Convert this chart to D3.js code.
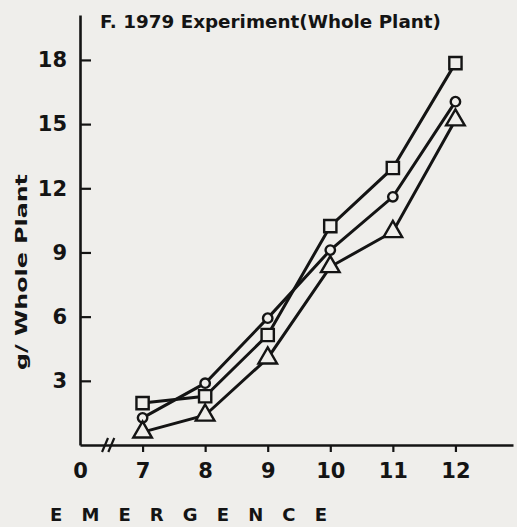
<!DOCTYPE html>
<html>
<head>
<meta charset="utf-8">
<script src="https://cdn.jsdelivr.net/npm/d3@7"></script>
<style>
  html, body { margin: 0; padding: 0; background: #efeeeb; }
  svg { display: block; }
  text { font-family: 'DejaVu Sans', sans-serif; fill: #141414; }
</style>
</head>
<body>
<svg id="chart" width="517" height="527"></svg>
<script>
// emergence (x) and grams per whole plant for the three series
const categories = [7, 8, 9, 10, 11, 12];
const squareSeries = [1.96, 2.28, 5.14, 10.23, 12.95, 17.85];
const circleSeries = [1.27, 2.89, 5.93, 9.11, 11.6, 16.05];
const triangleSeries = [0.6, 1.39, 4.06, 8.33, 9.97, 15.19];
const yTicks = [3, 6, 9, 12, 15, 18];
const xTickLabels = ['0', '7', '8', '9', '10', '11', '12'];

const ink = '#141414';
const bg = '#efeeeb';

let svg = d3.select('#chart');

const x = d3.scaleLinear().domain([6, 12.92]).range([80, 513]);
const y = d3.scaleLinear().domain([0, 20.1]).range([445, 15]);

// y axis, ticks pointing inward
const yAxis = svg.append('g')
    .attr('transform', `translate(${x(6)},0)`)
    .call(d3.axisLeft(y).tickValues(yTicks).tickSizeInner(-11).tickSizeOuter(0).tickPadding(13));
yAxis.select('.domain').attr('stroke', ink).attr('stroke-width', 2.6);
yAxis.selectAll('.tick line').attr('stroke', ink).attr('stroke-width', 2.2);
yAxis.selectAll('.tick text')
    .style('font-size', '21px').style('font-weight', 'bold').attr('fill', ink);

// x axis, first tick is the broken-axis origin labelled 0
const xAxis = svg.append('g')
    .attr('transform', `translate(0,${y(0)})`)
    .call(d3.axisBottom(x).tickValues([6].concat(categories))
        .tickFormat((d, i) => xTickLabels[i])
        .tickSizeInner(7).tickSizeOuter(0).tickPadding(11));
xAxis.select('.domain').attr('stroke', ink).attr('stroke-width', 2.6);
xAxis.selectAll('.tick line').attr('stroke', ink).attr('stroke-width', 2.2)
    .filter(d => d === 6).remove();
xAxis.selectAll('.tick text')
    .style('font-size', '21px').style('font-weight', 'bold').attr('fill', ink);

// axis break marks
[6.4, 6.5].forEach(v => {
    svg.append('line')
        .attr('x1', x(v) - 3).attr('y1', y(0) + 7)
        .attr('x2', x(v) + 3).attr('y2', y(0) - 7)
        .attr('stroke', ink).attr('stroke-width', 2.2);
});

const line = d3.line()
    .x((d, i) => x(categories[i]))
    .y(d => y(d));

const seriesList = [
    {name: 'square', values: squareSeries},
    {name: 'circle', values: circleSeries},
    {name: 'triangle', values: triangleSeries}
];

svg.selectAll('path.series')
    .data(seriesList)
    .join('path')
    .attr('class', 'series')
    .attr('d', d => line(d.values))
    .attr('fill', 'none')
    .attr('stroke', ink)
    .attr('stroke-width', 3);

const symbolOf = {
    square: d3.symbol().type(d3.symbolSquare).size(150),
    circle: d3.symbol().type(d3.symbolCircle).size(70),
    triangle: d3.symbol().type(d3.symbolTriangle).size(150)
};

seriesList.forEach(s => {
    svg.append('g').selectAll('path')
        .data(s.values)
        .join('path')
        .attr('transform', (d, i) => `translate(${x(categories[i])},${y(d)})`)
        .attr('d', symbolOf[s.name]())
        .attr('fill', bg)
        .attr('stroke', ink)
        .attr('stroke-width', 2.4);
});

// title
svg.append('text')
    .attr('x', 100).attr('y', 28)
    .attr('textLength', 341).attr('lengthAdjust', 'spacingAndGlyphs')
    .style('font-size', '18.5px').style('font-weight', 'bold')
    .text('F. 1979 Experiment(Whole Plant)');

// y label
svg.append('text')
    .attr('transform', 'translate(27,272) rotate(-90)')
    .attr('text-anchor', 'middle')
    .attr('textLength', 196).attr('lengthAdjust', 'spacingAndGlyphs')
    .style('font-size', '16px').style('font-weight', 'bold')
    .text('g/ Whole  Plant');

// x label
svg.append('text')
    .attr('x', 50).attr('y', 521)
    .attr('textLength', 277).attr('lengthAdjust', 'spacing')
    .style('font-size', '18px').style('font-weight', 'bold')
    .text('EMERGENCE');
</script>
</body>
</html>
